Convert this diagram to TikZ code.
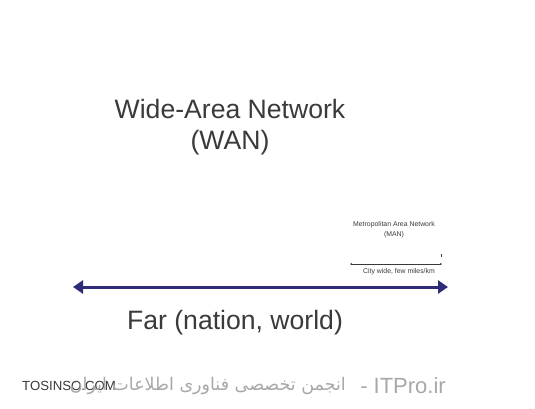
\documentclass[tikz,border=0pt]{standalone}
\usepackage{fontspec}
\setmainfont{Liberation Sans}
\newfontfamily\arabicfont[Script=Arabic]{DejaVu Sans}
\TeXXeTstate=1
\usetikzlibrary{arrows.meta}
\definecolor{navy}{HTML}{2E2B78}
\definecolor{titlegray}{HTML}{3A3A3A}
\definecolor{wmgray}{HTML}{A8A8A8}
\begin{document}
\begin{tikzpicture}[x=1pt,y=-1pt,
  title/.style={font=\fontsize{26.6}{30}\selectfont, text=titlegray, inner sep=0pt},
  tiny/.style={font=\fontsize{6.9}{8}\selectfont, text=titlegray, inner sep=0pt},
  wm/.style={text=wmgray, inner sep=0pt}]
\useasboundingbox[fill=white] (0,0) rectangle (535,409);
\node[title] (wan) at (230,109) {Wide-Area Network};
\node[title] (wanabbr) at (230,143) {(WAN)};
\node[tiny] (man) at (394,225) {Metropolitan Area Network};
\node[tiny] (manabbr) at (394,235) {(MAN)};
\coordinate (tick) at (441,254);
\draw[titlegray, line width=0.5pt] (tick) -- ++(0,3);
\coordinate (cl) at (350,264);
\coordinate (cr) at (442,264);
\draw[titlegray, line width=0.4pt, {Stealth[length=2pt,width=2pt]}-{Stealth[length=2pt,width=2pt]}] (cl) -- (cr);
\node[tiny] (city) at (399,272) {City wide, few miles/km};
\coordinate (fl) at (73,287);
\coordinate (fr) at (448,287);
\draw[navy, line width=3pt, {Triangle[length=10pt,width=13pt]}-{Triangle[length=10pt,width=13pt]}] (fl) -- (fr);
\node[title] (far) at (235,323) {Far (nation, world)};
\node[font=\fontsize{13.2}{15}\selectfont, text=titlegray, inner sep=0pt, anchor=west] (tos) at (22,386) {TOSINSO.COM};
\node[wm, font=\fontsize{22}{26}\selectfont, anchor=east] (itp) at (446,386) {- ITPro.ir};
\node[wm, font=\arabicfont\fontsize{17.5}{20}\selectfont, anchor=east] (ar) at (346,386) {\beginR انجمن تخصصی فناوری اطلاعات ایران\endR};
\end{tikzpicture}
\end{document}
